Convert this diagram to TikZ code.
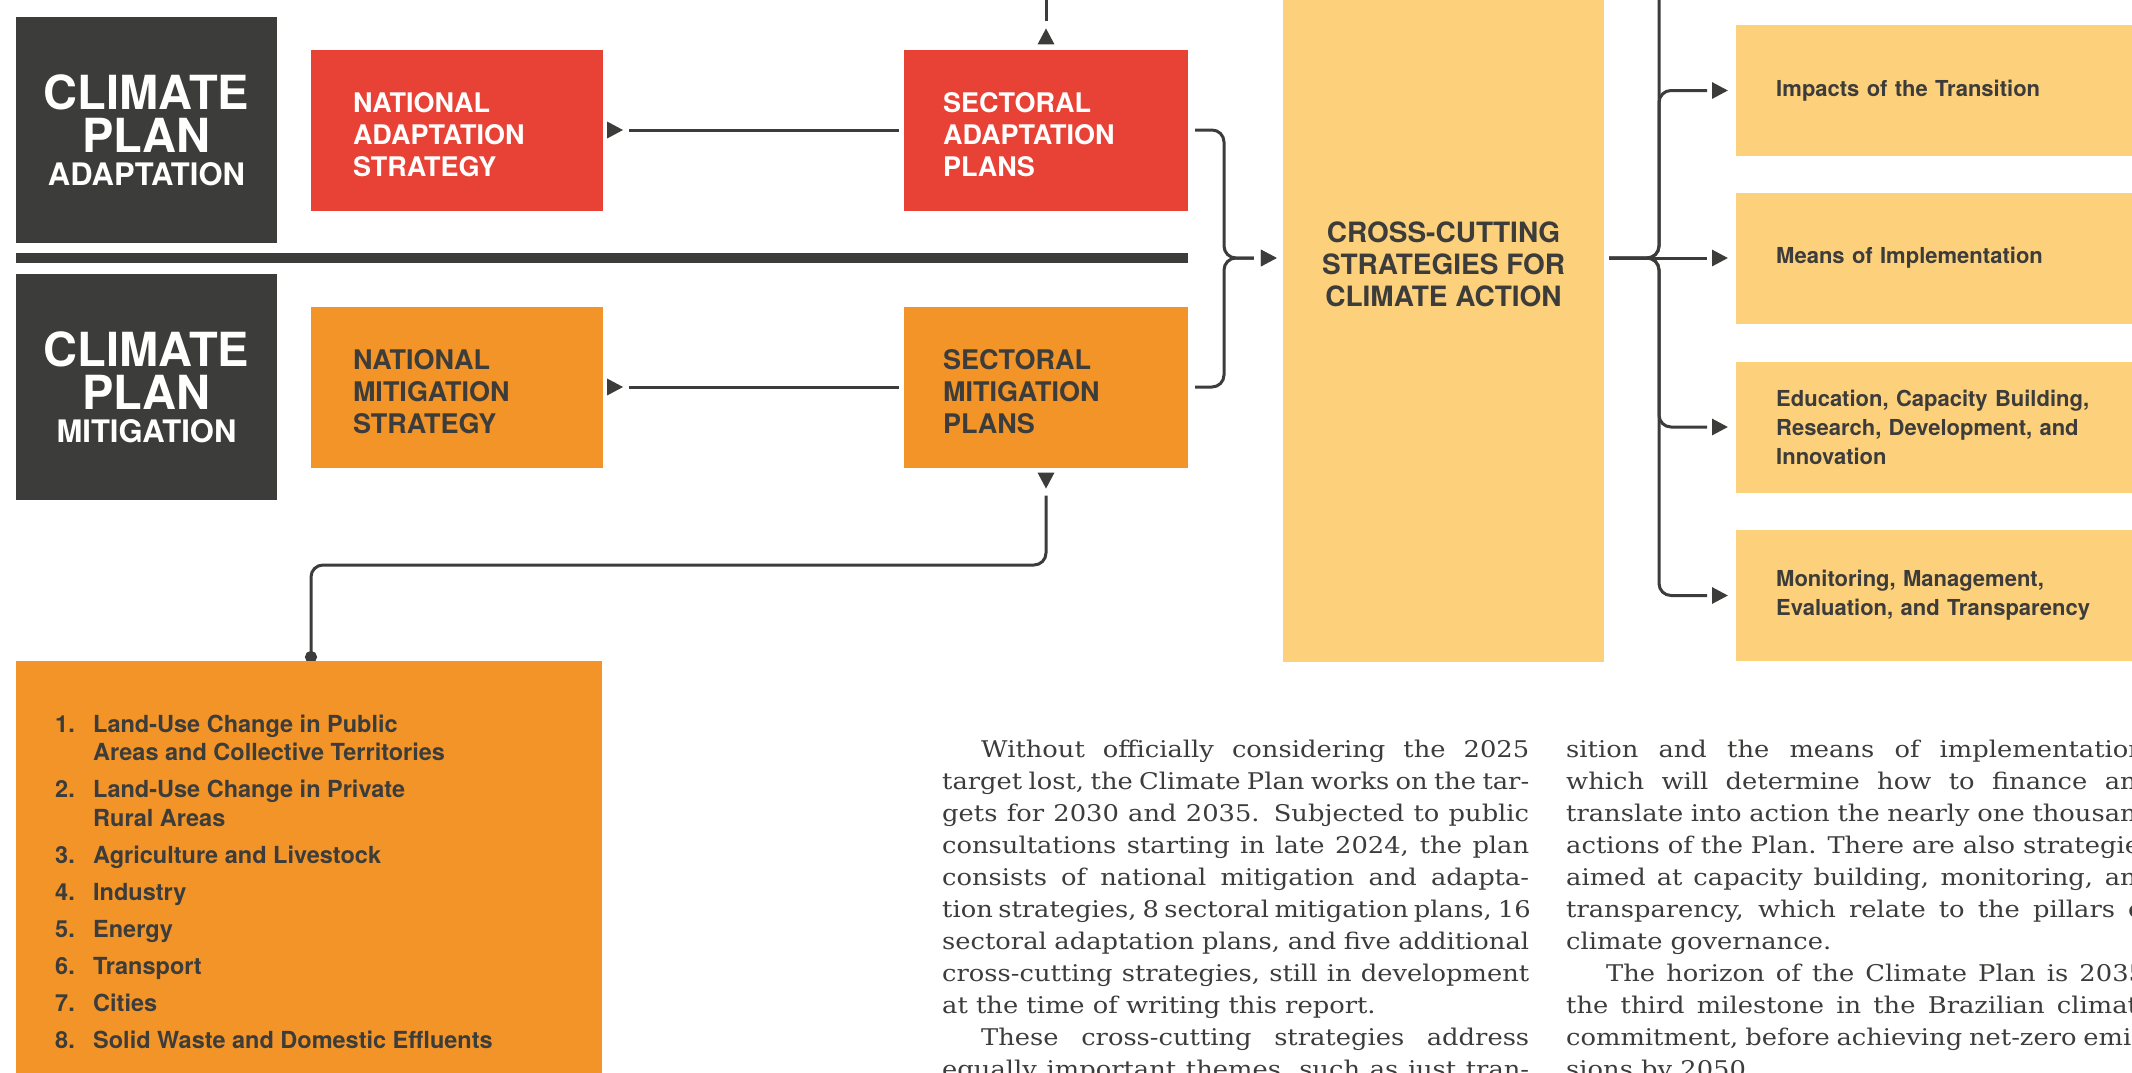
\documentclass[tikz,border=0pt]{standalone}
\usepackage{fontspec}
\usetikzlibrary{arrows.meta,backgrounds,decorations.markings}
\newfontfamily\diagfont{TeX Gyre Heros}
\newfontfamily\bodyfont[FakeStretch=1.12]{DejaVu Serif}
\definecolor{ink}{HTML}{3C3C3B}
\definecolor{adapt}{HTML}{E84135}
\definecolor{mitig}{HTML}{F29427}
\definecolor{sand}{HTML}{FDD07B}
\newcommand{\justline}[1]{\makebox[\linewidth][s]{#1}\par}
\tikzset{
  darkbox/.style={fill=ink, text=white, inner sep=0pt, minimum width=261pt, minimum height=226pt,
    align=center, font=\diagfont\bfseries\fontsize{47}{43}\selectfont},
  stratbox/.style 2 args={fill=#1, text=#2, inner ysep=0pt, minimum height=161pt, align=left,
    execute at begin node={\rule{0pt}{29pt}}, font=\diagfont\bfseries\fontsize{27}{32}\selectfont},
  sandbox/.style={fill=sand, text=ink, inner ysep=0pt, inner xsep=40pt, text width=360pt,
    minimum height=131pt, align=left, font=\diagfont\bfseries\fontsize{22}{29}\selectfont},
  listline/.style={text=ink, inner sep=0pt, anchor=base west,
    font=\diagfont\bfseries\fontsize{23.5}{29}\selectfont},
  bodytext/.style={text=ink, inner sep=0pt, anchor=base west, font=\bodyfont\fontsize{23}{32}\selectfont},
  link/.style={draw=ink, line width=3pt},
  % loose arrowheads, set apart from the line
  headat/.style={postaction={decorate}, decoration={markings,
    mark=at position #1 with {\arrow{Triangle[length=16pt,width=16pt]}}}},
}
\begin{document}
\begin{tikzpicture}[x=1pt,y=-1pt]
  \useasboundingbox (0,0) rectangle (2132,1072);
  \clip (0,0) rectangle (2132,1072);

  % the two plans
  \node[darkbox] (planA) at (146.5,130) {CLIMATE\\PLAN\\[-10pt]{\fontsize{31}{31}\selectfont ADAPTATION}};
  \node[darkbox] (planM) at (146.5,387) {CLIMATE\\PLAN\\[-10pt]{\fontsize{31}{31}\selectfont MITIGATION}};
  \fill[ink] (16,253) rectangle (1188,263);

  % strategies and sectoral plans
  \node[stratbox={adapt}{white}, text width=208pt, inner xsep=42pt] (nas) at (457,130) {NATIONAL\\ADAPTATION\\STRATEGY};
  \node[stratbox={adapt}{white}, text width=206pt, inner xsep=39pt] (sap) at (1046,130) {SECTORAL\\ADAPTATION\\PLANS};
  \node[stratbox={mitig}{ink}, text width=208pt, inner xsep=42pt] (nms) at (457,387) {NATIONAL\\MITIGATION\\STRATEGY};
  \node[stratbox={mitig}{ink}, text width=206pt, inner xsep=39pt] (smp) at (1046,387) {SECTORAL\\MITIGATION\\PLANS};

  % cross-cutting strategies
  \node[fill=sand, inner sep=0pt, minimum width=321pt, minimum height=662pt] (cross) at (1443.5,331) {};
  \node[text=ink, align=center, font=\diagfont\bfseries\fontsize{28}{32}\selectfont] (crosslabel) at (1443.5,264)
    {CROSS-CUTTING\\STRATEGIES FOR\\CLIMATE ACTION};
  \foreach \name/\y/\txt in {impacts/90.5/{Impacts of the Transition},
      means/258/{Means of Implementation},
      education/427/{Education, Capacity Building,\\Research, Development, and\\Innovation},
      monitoring/595.5/{Monitoring, Management,\\Evaluation, and Transparency}}
    \node[sandbox, anchor=west] (\name) at (1736,\y) {\txt};

  % sectors of the mitigation plan
  \node[fill=mitig, inner sep=0pt, minimum width=586pt, minimum height=440pt, anchor=north west] (sectors) at (16,661) {};
  \foreach \y/\n/\t in {732/1./Land-Use Change in Public, 760//Areas and Collective Territories,
      797/2./Land-Use Change in Private, 826//Rural Areas, 863/3./Agriculture and Livestock,
      900/4./Industry, 937/5./Energy, 974/6./Transport, 1011/7./Cities,
      1048/8./Solid Waste and Domestic Effluents}
    \node[listline] (sector\y) at (55,\y) {\makebox[38pt][l]{\n}\t};

  % report text
  \node[bodytext] (colA) at (942,757) {\parbox[t]{587pt}{%
    \justline{\hspace*{39pt}Without officially considering the 2025}
    \justline{target lost, the Climate Plan works on the tar-}
    \justline{gets for 2030 and 2035. Subjected to public}
    \justline{consultations starting in late 2024, the plan}
    \justline{consists of national mitigation and adapta-}
    \justline{tion strategies, 8 sectoral mitigation plans, 16}
    \justline{sectoral adaptation plans, and five additional}
    \justline{cross-cutting strategies, still in development}
    at the time of writing this report.\par
    \justline{\hspace*{39pt}These cross-cutting strategies address}
    \justline{equally important themes, such as just tran-}}};
  \node[bodytext] (colB) at (1566,757) {\parbox[t]{587pt}{%
    \justline{sition and the means of implementation,}
    \justline{which will determine how to finance and}
    \justline{translate into action the nearly one thousand}
    \justline{actions of the Plan. There are also strategies}
    \justline{aimed at capacity building, monitoring, and}
    \justline{transparency, which relate to the pillars of}
    climate governance.\par
    \justline{\hspace*{40pt}The horizon of the Climate Plan is 2035,}
    \justline{the third milestone in the Brazilian climate}
    \justline{commitment, before achieving net-zero emis-}
    sions by 2050.\par}};

  \begin{scope}[on background layer]
    \draw[link, headat=20pt, shorten <=26pt, shorten >=5pt] (nas) -- (sap);
    \draw[link, headat=20pt, shorten <=26pt, shorten >=5pt] (nms) -- (smp);
    \coordinate (upend) at (1046,-5);
    \draw[link, headat=21pt, shorten <=28pt] (sap.north) -- (upend);
    % brace into the cross-cutting box
    \coordinate (jl) at (1224,258);
    \draw[link, headat=-6pt, rounded corners=12pt, shorten <=7pt, shorten >=29pt]
      (sap.east) -| (jl) -- (cross.west |- jl);
    \draw[link, headat=-6pt, rounded corners=12pt, shorten <=7pt, shorten >=29pt]
      (smp.east) -| (jl) -- (cross.west |- jl);
    % fan out to the themes
    \coordinate (jr) at (1659,258);
    \coordinate (upright) at (1659,-5);
    \draw[link, rounded corners=12pt, shorten <=5pt] (cross.east |- jr) -- (jr) -- (upright);
    \draw[link, headat=-8pt, shorten <=5pt, shorten >=29pt] (cross.east |- jr) -- (means.west);
    \foreach \b in {impacts,education,monitoring}
      \draw[link, headat=-8pt, rounded corners=12pt, shorten <=5pt, shorten >=29pt]
        (cross.east |- jr) -- (jr) |- (\b.west);
    % down to the sectors
    \coordinate (lane) at (311,565);
    \draw[link, headat=21pt, rounded corners=12pt, shorten <=28pt, shorten >=-2pt, -{Circle[length=12pt]}]
      (smp.south) |- (lane) -- (sectors.north -| lane);
  \end{scope}
\end{tikzpicture}
\end{document}
